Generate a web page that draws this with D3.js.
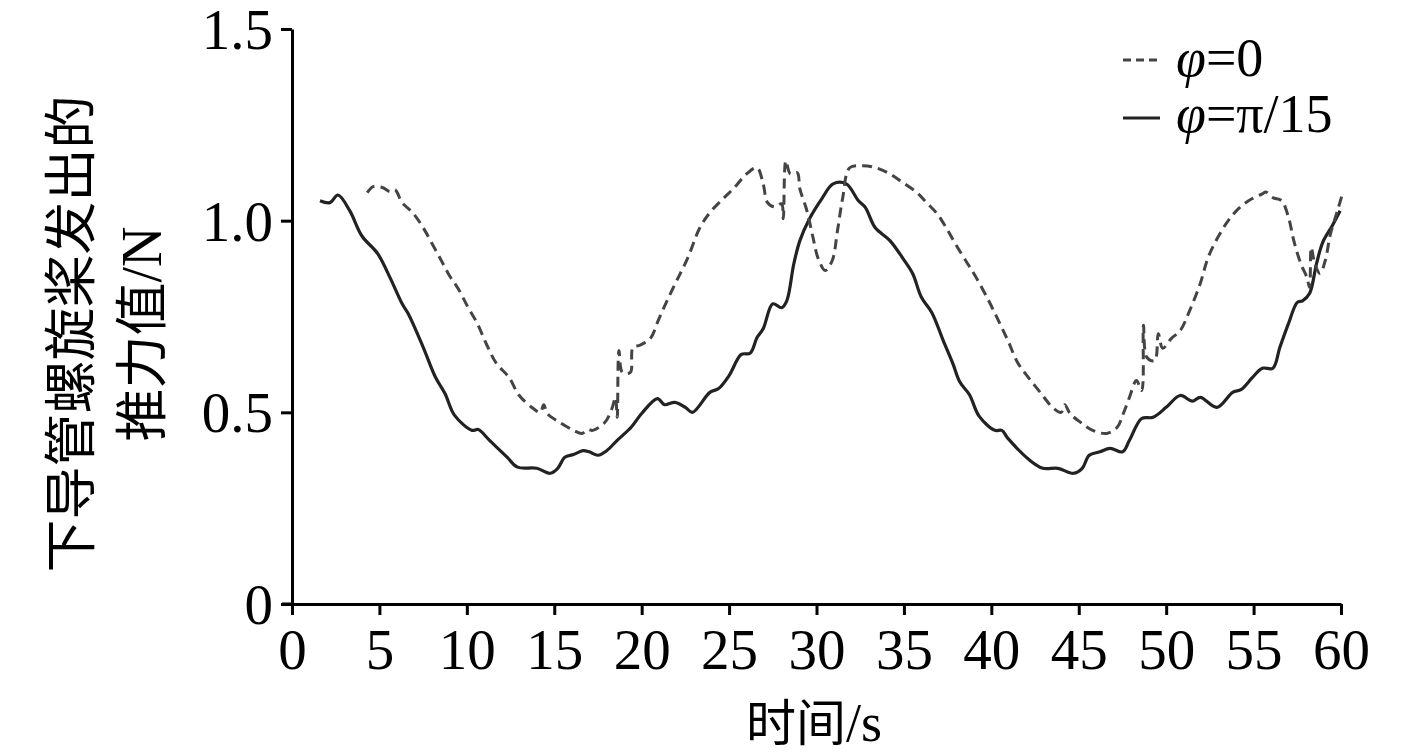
<!DOCTYPE html>
<html><head><meta charset="utf-8">
<script src="https://cdn.jsdelivr.net/npm/d3@7"></script>
<style>body{margin:0;background:#fff;} svg{display:block;}</style>
</head><body>
<svg id="c" width="1417" height="756"></svg>
<script>
const xTicks = [0,5,10,15,20,25,30,35,40,45,50,55,60];
const yTicks = [0,0.5,1.0,1.5];
const yTickLabels = ["0","0.5","1.0","1.5"];
const xLabel = "时间/s";
const yLabel1 = "下导管螺旋桨发出的";
const yLabel2a = "推力值";
const yLabel2b = "/N";
const seriesNames = ["φ=0","φ=π/15"];

// φ=0 (dashed)
const t0 = [4.3,4.65,5.2,5.6,5.9,6.3,6.9,7.5,8.07,8.6,9.0,9.5,10.07,10.6,11.15,11.7,12.4,13.0,13.8,14.2,14.4,14.6,15.3,16.1,16.6,16.9,17.2,17.9,18.3,18.5,18.6,18.7,18.9,19.35,19.5,19.9,20.5,20.95,21.45,22.0,22.65,23.3,23.9,24.65,25.3,26.0,26.6,26.95,27.2,27.6,28.0,28.1,28.25,28.5,28.9,29.05,29.45,29.8,30.1,30.5,30.9,31.2,31.5,31.9,32.65,33.4,34.2,34.95,35.75,36.3,36.9,37.45,38.0,38.6,39.0,39.75,40.4,40.95,41.5,42.1,42.8,43.5,44.0,44.2,44.5,45.1,45.8,46.6,47.2,47.55,47.9,48.3,48.6,48.7,48.9,49.35,49.55,49.8,50.3,50.8,51.35,51.95,52.4,52.95,53.55,54.2,54.9,55.5,55.7,56.1,56.6,57.0,57.3,57.7,58.05,58.2,58.3,58.5,58.8,59.1,59.4,59.8,60.05];
const v0 = [1.073,1.089,1.086,1.076,1.08,1.047,1.021,0.982,0.935,0.891,0.857,0.823,0.774,0.732,0.675,0.627,0.592,0.544,0.51,0.50,0.52,0.497,0.474,0.453,0.445,0.455,0.453,0.474,0.51,0.539,0.487,0.661,0.604,0.604,0.669,0.675,0.693,0.74,0.791,0.843,0.904,0.979,1.021,1.057,1.086,1.122,1.138,1.096,1.047,1.036,1.044,1.005,1.156,1.122,1.125,1.083,1.026,0.956,0.901,0.87,0.896,0.974,1.06,1.138,1.143,1.138,1.122,1.099,1.073,1.047,1.018,0.979,0.935,0.891,0.862,0.80,0.74,0.687,0.63,0.592,0.552,0.513,0.50,0.52,0.497,0.474,0.453,0.445,0.461,0.497,0.539,0.583,0.557,0.727,0.643,0.635,0.705,0.667,0.693,0.713,0.766,0.836,0.904,0.956,1.0,1.034,1.057,1.07,1.075,1.06,1.052,1.008,0.948,0.888,0.852,0.826,0.93,0.888,0.862,0.896,0.966,1.026,1.065];

// φ=π/15 (solid)
const t1 = [1.6,2.17,2.63,3.3,4.0,4.9,5.6,6.3,6.65,7.5,8.2,8.75,9.3,10.3,10.65,11.3,12.3,12.9,14.0,14.75,15.2,15.6,16.1,16.65,17.0,17.5,18.0,18.6,19.4,20.0,20.9,21.3,21.9,22.5,22.9,23.9,24.4,25.0,25.7,26.2,26.6,26.95,27.5,28.0,28.3,28.7,29.05,29.6,30.3,30.95,31.7,32.4,32.8,33.35,34.2,34.95,35.5,36.0,36.6,37.25,37.8,38.2,38.75,39.3,40.2,40.6,40.95,42.2,42.95,43.8,44.7,45.2,45.6,46.2,46.8,47.5,47.9,48.6,49.25,50.0,50.8,51.5,51.95,52.9,53.8,54.3,54.9,55.5,56.1,56.5,57.0,57.5,57.8,58.2,58.6,58.95,59.5,59.95];
const v1 = [1.052,1.047,1.067,1.026,0.96,0.914,0.852,0.783,0.757,0.67,0.592,0.549,0.492,0.453,0.455,0.427,0.383,0.357,0.354,0.341,0.354,0.383,0.39,0.40,0.397,0.388,0.40,0.427,0.461,0.497,0.536,0.52,0.526,0.513,0.50,0.552,0.562,0.596,0.651,0.654,0.695,0.718,0.783,0.773,0.791,0.887,0.948,1.005,1.057,1.096,1.096,1.052,1.034,0.982,0.948,0.901,0.862,0.80,0.76,0.687,0.627,0.579,0.546,0.49,0.453,0.453,0.432,0.375,0.354,0.354,0.341,0.354,0.388,0.397,0.406,0.397,0.427,0.484,0.487,0.513,0.544,0.529,0.539,0.513,0.552,0.56,0.589,0.615,0.615,0.669,0.732,0.787,0.791,0.81,0.888,0.943,0.987,1.026];

const svg = d3.select("#c");
const x = d3.scaleLinear().domain([0,60]).range([292,1341]);
const y = d3.scaleLinear().domain([0,1.5]).range([604,29]);
const serif = "'Liberation Serif','Times New Roman',serif";
const cjk = "'Noto Sans CJK SC',sans-serif";

// axes
const xAxis = svg.append("g").attr("transform","translate(0,604)")
  .call(d3.axisBottom(x).tickValues(xTicks).tickSize(11).tickSizeOuter(0).tickPadding(14).tickFormat(d3.format("d")));
const yAxis = svg.append("g").attr("transform","translate(292,0)")
  .call(d3.axisLeft(y).tickValues(yTicks).tickSize(11).tickSizeOuter(0).tickPadding(8).tickFormat((d,i)=>yTickLabels[i]));
[xAxis,yAxis].forEach(g=>{
  g.select(".domain").attr("stroke","#000").attr("stroke-width",3);
  g.selectAll(".tick line").attr("stroke","#000").attr("stroke-width",3);
  g.selectAll(".tick text").attr("fill","#000").style("font-family",serif).style("font-size","57px");
});
yAxis.selectAll(".tick text").attr("dy","0.34em");
xAxis.selectAll(".tick text").attr("dy","0.71em");
svg.append("line").attr("x1",282).attr("x2",292).attr("y1",604).attr("y2",604).attr("stroke","#000").attr("stroke-width",3);

// lines
const line = d3.line().x(d=>x(d[0])).y(d=>y(d[1])).curve(d3.curveCatmullRom.alpha(0.5));
const d0 = t0.map((t,i)=>[t,v0[i]]);
const d1 = t1.map((t,i)=>[t,v1[i]]);
svg.append("path").datum(d1).attr("d",line).attr("fill","none").attr("stroke","#222").attr("stroke-width",3.2);
svg.append("path").datum(d0).attr("d",line).attr("fill","none").attr("stroke","#444").attr("stroke-width",3).attr("stroke-dasharray","10,6");

// axis titles
const xl = svg.append("text").attr("x",814).attr("y",741).attr("text-anchor","middle")
  .style("font-family",cjk).style("font-size","50px").attr("fill","#000");
xl.append("tspan").text(xLabel.slice(0,2));
xl.append("tspan").style("font-family",serif).style("font-size","54px").text(xLabel.slice(2));
svg.append("text").attr("transform","translate(90,334) rotate(-90)").attr("text-anchor","middle")
  .style("font-family",cjk).style("font-size","53px").attr("fill","#000").text(yLabel1);
const yl2 = svg.append("text").attr("transform","translate(161,334) rotate(-90)").attr("text-anchor","middle")
  .style("font-family",cjk).style("font-size","53px").attr("fill","#000");
yl2.append("tspan").text(yLabel2a);
yl2.append("tspan").style("font-family",serif).style("font-size","56px").text(yLabel2b);

// legend
const lg = svg.append("g");
lg.append("line").attr("x1",1123).attr("x2",1160).attr("y1",60).attr("y2",60).attr("stroke","#444").attr("stroke-width",3).attr("stroke-dasharray","8,5");
lg.append("line").attr("x1",1123).attr("x2",1160).attr("y1",118).attr("y2",118).attr("stroke","#222").attr("stroke-width",3);
function legText(yy, s){
  const t = lg.append("text").attr("x",1176).attr("y",yy)
    .style("font-family",serif).style("font-size","54px").attr("fill","#000");
  t.append("tspan").style("font-style","italic").text(s.slice(0,1));
  t.append("tspan").text(s.slice(1));
}
legText(76, seriesNames[0]);
legText(132, seriesNames[1]);
</script>
</body></html>
